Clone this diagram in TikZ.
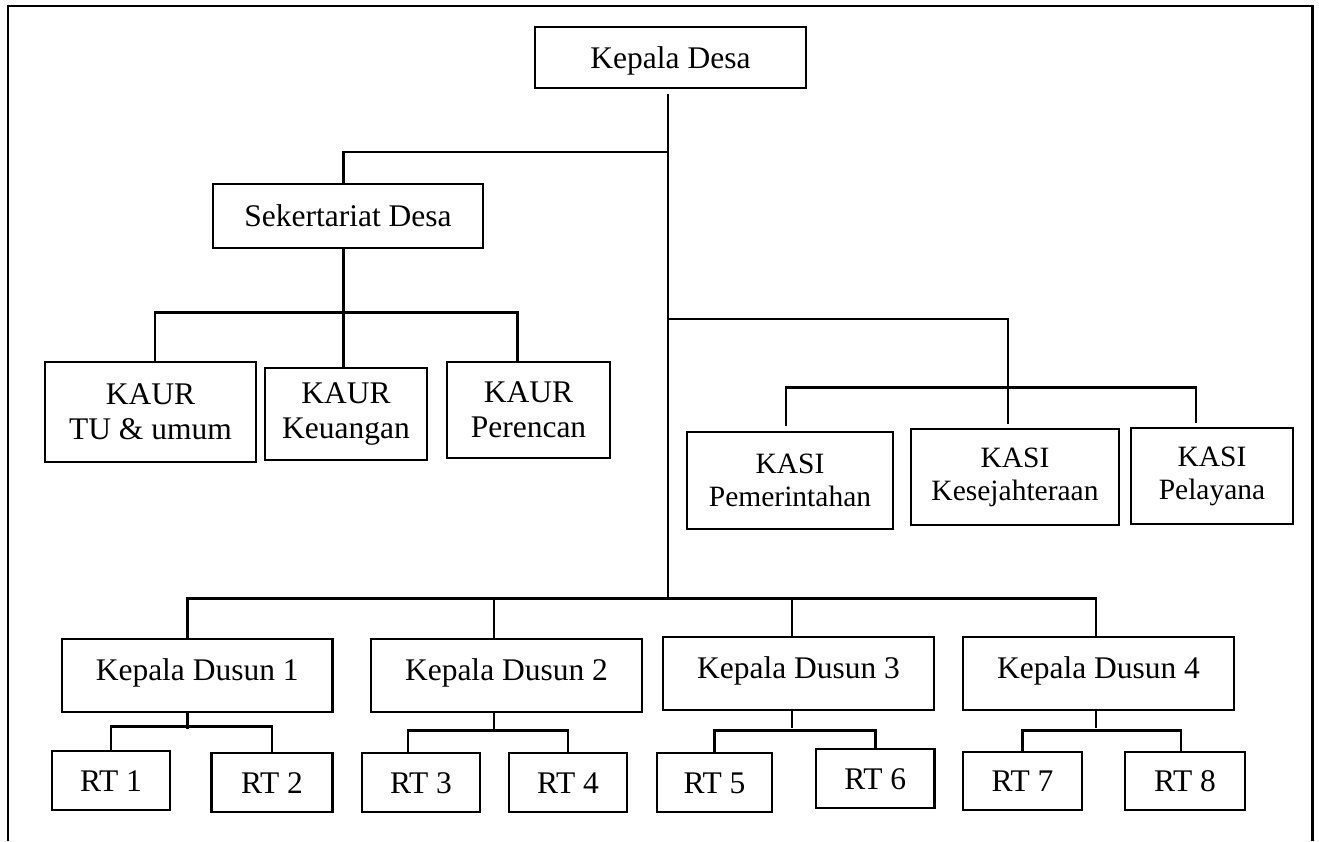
\documentclass[tikz,border=0pt]{standalone}
\usepackage{fontspec}
\setmainfont{Liberation Serif}
\usetikzlibrary{calc}
\newcommand\orgfont{\fontsize{31.5pt}{35pt}\selectfont}
\newcommand\kasifont{\fontsize{29.5pt}{33pt}\selectfont}
\begin{document}
\begin{tikzpicture}[x=1pt,y=-1pt,
  box/.style={draw, line width=2.8pt, inner sep=0pt, align=center, font=\orgfont},
  oneline/.style={text height=21pt, text depth=0pt},
  raised/.style={text height=21pt, text depth=11pt},
  conn/.style={line width=2.5pt}]
\useasboundingbox (0,0) rectangle (1319,841);
% outer frame, open at the bottom
\draw[line width=2.5pt] (8,841) -- (8,6) -- (1312.5,6) -- (1312.5,841);

% head and secretariat
\node[box, oneline, minimum width=271pt, minimum height=61pt] (kd) at (670.5,57.5) {Kepala Desa};
\node[box, oneline, minimum width=270pt, minimum height=64pt] (sek) at (348,216) {Sekertariat Desa};

% KAUR units
\node[box, minimum width=211pt, minimum height=100pt] (k1) at (150.5,412) {KAUR\\TU \& umum};
\node[box, minimum width=162pt, minimum height=92pt] (k2) at (346,414) {KAUR\\Keuangan};
\node[box, minimum width=163pt, minimum height=96pt] (k3) at (528.5,410) {KAUR\\Perencan};

% KASI units
\node[box, font=\kasifont, minimum width=206pt, minimum height=97pt] (ks1) at (790,480.5) {KASI\\Pemerintahan};
\node[box, font=\kasifont, minimum width=208pt, minimum height=96pt] (ks2) at (1015,477) {KASI\\Kesejahteraan};
\node[box, font=\kasifont, minimum width=162pt, minimum height=96pt] (ks3) at (1212,476) {KASI\\Pelayana};

% hamlet heads
\node[box, raised, minimum width=270.5pt, minimum height=73pt] (ds1) at (197.25,675.5) {Kepala Dusun 1};
\node[box, raised, minimum width=271pt, minimum height=73pt] (ds2) at (506.5,675.5) {Kepala Dusun 2};
\node[box, raised, minimum width=271pt, minimum height=73pt] (ds3) at (798.5,673.5) {Kepala Dusun 3};
\node[box, raised, minimum width=271pt, minimum height=73pt] (ds4) at (1098.5,673.5) {Kepala Dusun 4};

% neighbourhood units
\node[box, oneline, minimum width=118pt, minimum height=59pt] (rt1) at (111,780.5) {RT 1};
\node[box, oneline, minimum width=121pt, minimum height=59pt] (rt2) at (272,782.5) {RT 2};
\node[box, oneline, minimum width=118pt, minimum height=59pt] (rt3) at (421,782.5) {RT 3};
\node[box, oneline, minimum width=118pt, minimum height=59pt] (rt4) at (568,782.5) {RT 4};
\node[box, oneline, minimum width=115pt, minimum height=59pt] (rt5) at (714.5,782.5) {RT 5};
\node[box, oneline, minimum width=118.5pt, minimum height=59pt] (rt6) at (875.25,778.5) {RT 6};
\node[box, oneline, minimum width=119pt, minimum height=58pt] (rt7) at (1022.5,781) {RT 7};
\node[box, oneline, minimum width=120pt, minimum height=58pt] (rt8) at (1185,781) {RT 8};

% trunk junctions
\coordinate (j1) at (668,152);
\coordinate (j2) at (668,319);
\coordinate (j3) at (668,600);

% trunk
\draw[conn] ($(kd.south)+(-2.5,5)$) -- (j3);

% secretariat branch and KAUR bus
\draw[conn] (j1) -| ($(sek.north)+(-4.5,0)$);
\draw[conn] ($(sek.south)+(-4.5,0)$) -- ($(k2.north)+(-2.5,0)$);
\draw[conn] ($(k1.north)+(4.5,0)$) -- ++(0,-48) -| ($(k3.north)+(-11,0)$);

% KASI branch
\draw[conn] (j2) -| ($(ks2.north)+(-7,-4)$);
\draw[conn] ($(ks1.north)+(-4,-5)$) -- ++(0,-38) -| ($(ks3.north)+(-16,-4)$);

% hamlet bus
\draw[conn] ($(ds1.north)+(-10,0)$) -- ++(0,-39) -| ($(ds4.north)+(-2.5,0)$);
\draw[conn] ($(ds2.north)+(-12.5,0)$) -- ++(0,-39);
\draw[conn] ($(ds3.north)+(-6.5,0)$) -- ++(0,-37);

% RT branches
\draw[conn] ($(ds1.south)+(-10,0)$) -- ++(0,16);
\draw[conn] (rt1.north) -- ++(0,-23) -| (rt2.north);
\draw[conn] ($(ds2.south)+(-12.5,0)$) -- ++(0,16);
\draw[conn] ($(rt3.north)+(-13,0)$) -- ++(0,-21) -| (rt4.north);
\draw[conn] ($(ds3.south)+(-6.5,0)$) -- ++(0,17);
\draw[conn] (rt5.north) -- ++(0,-21) -| (rt6.north);
\draw[conn] ($(ds4.south)+(-2.5,0)$) -- ++(0,17);
\draw[conn] (rt7.north) -- ++(0,-20) -| ($(rt8.north)+(-4,0)$);
\end{tikzpicture}
\end{document}
